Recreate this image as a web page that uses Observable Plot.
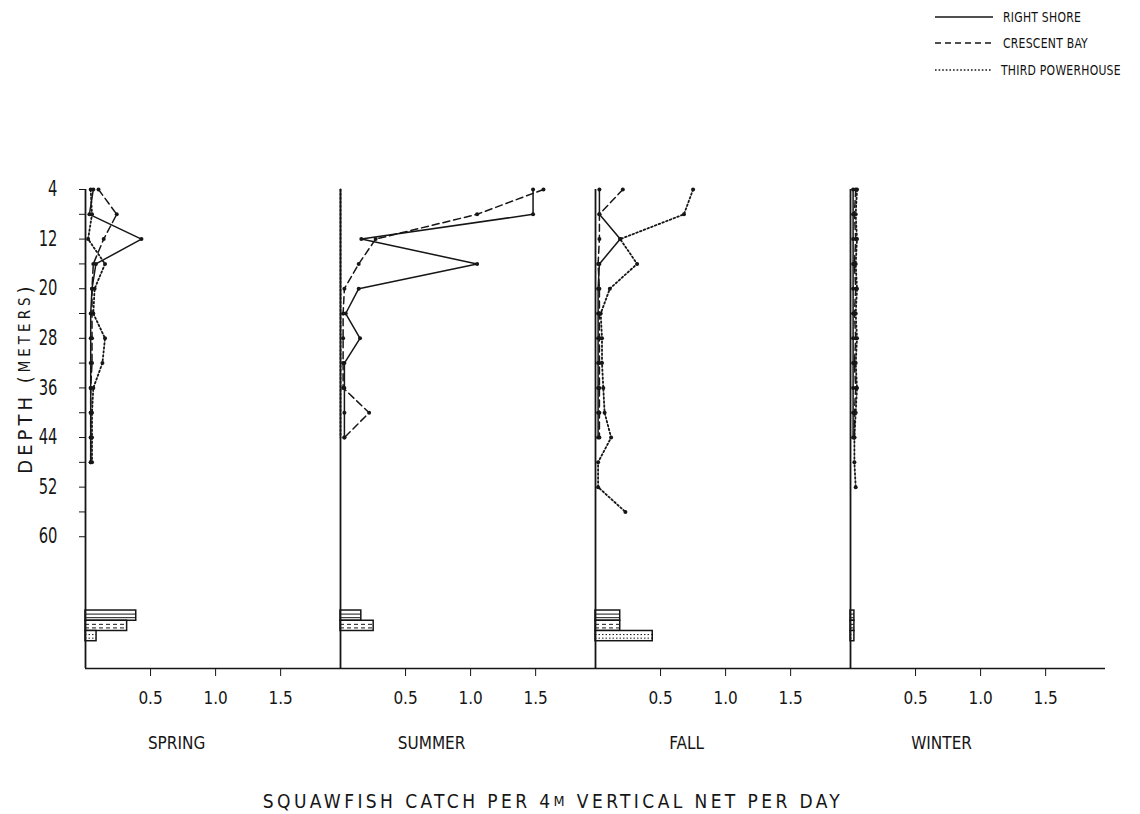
<!DOCTYPE html>
<html>
<head>
<meta charset="utf-8">
<script src="https://cdn.jsdelivr.net/npm/d3@7"></script>
<script src="https://cdn.jsdelivr.net/npm/@observablehq/plot@0.6"></script>
<style>
  html, body { margin: 0; padding: 0; background: #fff; }
  #wrap { position: relative; width: 1140px; height: 814px; overflow: hidden;
          font-family: "DejaVu Sans Condensed", "DejaVu Sans", sans-serif; color: #111; }
  #wrap svg { display: block; }
  .legend { position: absolute; left: 935px; top: 0; }
  .legrow { position: absolute; left: 0; width: 205px; height: 20px; display: flex; align-items: center; }
  .legrow span { margin-left: 10px; font-size: 14px; letter-spacing: 0.3px; white-space: nowrap;
                 display: inline-block; transform: scaleX(0.86); transform-origin: left center; }
</style>
</head>
<body>
<div id="wrap"></div>
<script>
// ---------------- data ----------------
const seasons = ["Spring", "Summer", "Fall", "Winter"];
const stations = ["Right Shore", "Crescent Bay", "Third Powerhouse"];
const depths = [4, 8, 12, 16, 20, 24, 28, 32, 36, 40, 44, 48, 52, 56];

// catch per 4 m vertical net per day, one value per depth (from 4 m down)
const springRightShore      = [0.06, 0.03, 0.43, 0.08, 0.05, 0.04, 0.04, 0.04, 0.04, 0.04, 0.04, 0.04];
const springCrescentBay     = [0.10, 0.24, 0.14, 0.06, 0.05, 0.05, 0.05, 0.05, 0.04, 0.04, 0.04, 0.04];
const springThirdPowerhouse = [0.04, 0.05, 0.02, 0.15, 0.07, 0.06, 0.15, 0.13, 0.06, 0.05, 0.05, 0.05];

const summerRightShore      = [1.48, 1.48, 0.16, 1.05, 0.14, 0.04, 0.15, 0.03, 0.03, 0.03, 0.03];
const summerCrescentBay     = [1.56, 1.05, 0.27, 0.14, 0.03, 0.02, 0.02, 0.02, 0.02, 0.22, 0.03];
const summerThirdPowerhouse = [0, 0, 0, 0, 0, 0, 0, 0, 0, 0, 0];

const fallRightShore        = [0.03, 0.03, 0.19, 0.03, 0.02, 0.02, 0.02, 0.02, 0.02, 0.02, 0.02];
const fallCrescentBay       = [0.21, 0.03, 0.03, 0.02, 0.03, 0.03, 0.03, 0.03, 0.03, 0.03, 0.03];
const fallThirdPowerhouse   = [0.75, 0.68, 0.19, 0.32, 0.11, 0.04, 0.05, 0.05, 0.06, 0.07, 0.12, 0.02, 0.02, 0.23];

const winterRightShore      = [0.02, 0.02, 0.02, 0.02, 0.02, 0.02, 0.02, 0.02, 0.02, 0.02, 0.02];
const winterCrescentBay     = [0.04, 0.03, 0.04, 0.03, 0.04, 0.03, 0.04, 0.03, 0.04, 0.03, 0.03];
const winterThirdPowerhouse = [0.05, 0.04, 0.05, 0.04, 0.05, 0.04, 0.05, 0.04, 0.05, 0.04, 0.03, 0.03, 0.04];

// summary bars (one value per season)
const barRightShore      = [0.39, 0.16, 0.19, 0.03];
const barCrescentBay     = [0.32, 0.255, 0.19, 0.03];
const barThirdPowerhouse = [0.085, 0.0, 0.44, 0.03];

const xTicks = [0.5, 1.0, 1.5];
const depthLabels = [4, 12, 20, 28, 36, 44, 52, 60];
const depthMinor = [8, 16, 24, 32, 40, 48, 56];

// ---------------- build tables ----------------
const profiles = {
  Spring: [springRightShore, springCrescentBay, springThirdPowerhouse],
  Summer: [summerRightShore, summerCrescentBay, summerThirdPowerhouse],
  Fall:   [fallRightShore, fallCrescentBay, fallThirdPowerhouse],
  Winter: [winterRightShore, winterCrescentBay, winterThirdPowerhouse]
};
const rows = [];
for (const s of seasons) {
  profiles[s].forEach((vals, k) => {
    vals.forEach((v, i) => rows.push({season: s, station: stations[k], depth: depths[i], value: v}));
  });
}
const barVals = [barRightShore, barCrescentBay, barThirdPowerhouse];
const bars = [];
const yBottom = 81.25;          // depth at the baseline of the panels
const barTop = 71.9, barStep = 1.65;
seasons.forEach((s, j) => {
  stations.forEach((st, k) => {
    const v = barVals[k][j];
    if (v > 0) bars.push({season: s, station: st, value: v,
                          y1: barTop + k * barStep, y2: barTop + (k + 1) * barStep});
  });
});
const hatches = [];
for (const b of bars) for (const f of [0.35, 0.7])
  hatches.push({...b, y: b.y1 + f * (b.y2 - b.y1)});

const dash = {"Right Shore": null, "Crescent Bay": "7,4", "Third Powerhouse": "1.6,2.4"};
const FONT = '"DejaVu Sans Condensed", "DejaVu Sans", sans-serif';
const ink = "#161616";

const lineMarks = stations.map(st => Plot.line(rows.filter(r => r.station === st), {
  fx: "season", x: "value", y: "depth", z: "season",
  stroke: ink, strokeWidth: st === "Third Powerhouse" ? 1.8 : 1.5,
  strokeDasharray: dash[st]
}));
const hatchMarks = stations.map(st => Plot.ruleY(hatches.filter(h => h.station === st), {
  fx: "season", y: "y", x1: () => 0, x2: "value",
  stroke: ink, strokeWidth: 1, strokeDasharray: dash[st] ? (st === "Crescent Bay" ? "4,3" : "1.5,2") : null
}));

const chart = Plot.plot({
  width: 1140, height: 814,
  marginLeft: 85, marginRight: 35, marginTop: 189, marginBottom: 146,
  style: {fontFamily: FONT, color: ink, background: "white"},
  fx: {domain: seasons, padding: 0, axis: null, label: null},
  x: {domain: [0, 1.96]},
  y: {domain: [4, yBottom], reverse: true},
  marks: [
    Plot.rectX(bars, {fx: "season", x1: () => 0, x2: "value", y1: "y1", y2: "y2",
                      fill: "white", stroke: ink, strokeWidth: 1.5}),
    ...hatchMarks,
    Plot.ruleX(seasons, {fx: d => d, x: () => 0, stroke: ink, strokeWidth: 1.8}),
    Plot.ruleY(seasons, {fx: d => d, y: () => yBottom, stroke: ink, strokeWidth: 1.6}),
    ...lineMarks,
    Plot.dot(rows.filter(r => r.value > 0), {fx: "season", x: "value", y: "depth", r: 2, fill: ink, stroke: null}),
    Plot.axisY({ticks: depthLabels, tickSize: 6, tickPadding: 22, fontSize: 21, label: null,
                tickFormat: d => String(d), stroke: ink}),
    Plot.axisY({ticks: depthMinor, tickSize: 6, tickFormat: () => "", label: null, stroke: ink}),
    Plot.axisX({ticks: xTicks, tickSize: 8, tickPadding: 15, fontSize: 17, label: null,
                tickFormat: d => d.toFixed(1), stroke: ink}),
    Plot.text(seasons, {fx: d => d, x: () => 0.7, frameAnchor: "bottom", dy: 80,
                        text: d => d.toUpperCase(), fontSize: 17, fill: ink,
                        style: "letter-spacing:1.5px"})
  ]
});

const wrap = document.getElementById("wrap");
wrap.appendChild(chart);

// narrow the depth numerals like the lettering of the original (scale about each label's anchor)
chart.querySelectorAll('g[aria-label="y-axis tick label"] text').forEach(t => {
  const ax = parseFloat(t.getAttribute("x") || "0") || 0;
  const tr = t.getAttribute("transform") || "";
  t.setAttribute("transform", `${tr} translate(${ax},0) scale(0.78,1) translate(${-ax},0)`);
});

// axis titles as SVG text inside the chart
const NS = "http://www.w3.org/2000/svg";
function svgText(x, y, rot, size, spacing, parts) {
  const t = document.createElementNS(NS, "text");
  t.setAttribute("transform", `translate(${x},${y})` + (rot ? ` rotate(${rot})` : ""));
  t.setAttribute("text-anchor", "middle");
  t.setAttribute("dominant-baseline", "central");
  t.setAttribute("fill", ink);
  t.setAttribute("font-family", FONT);
  t.setAttribute("font-size", size);
  t.style.letterSpacing = spacing + "px";
  for (const [str, scale] of parts) {
    const ts = document.createElementNS(NS, "tspan");
    if (scale !== 1) ts.setAttribute("font-size", size * scale);
    ts.textContent = str;
    t.appendChild(ts);
  }
  chart.appendChild(t);
}
svgText(25, 378, -90, 20, 4, [["DEPTH (", 1], ["METERS", 0.75], [")", 1]]);
svgText(553, 801, 0, 19, 3.4, [["SQUAWFISH CATCH PER 4", 1], ["M", 0.75], [" VERTICAL NET PER DAY", 1]]);

// legend
const legend = document.createElement("div");
legend.className = "legend";
const legY = [17, 43, 70];
stations.forEach((st, k) => {
  const row = document.createElement("div");
  row.className = "legrow";
  row.style.top = (legY[k] - 10) + "px";
  const da = dash[st] ? (st === "Crescent Bay" ? "6,4" : "1.6,2") : "none";
  row.innerHTML = `<svg width="58" height="6"><line x1="0" y1="3" x2="58" y2="3" stroke="${ink}" stroke-width="1.4" stroke-dasharray="${da}"/></svg><span>${st.toUpperCase()}</span>`;
  legend.appendChild(row);
});
wrap.appendChild(legend);
</script>
</body>
</html>
